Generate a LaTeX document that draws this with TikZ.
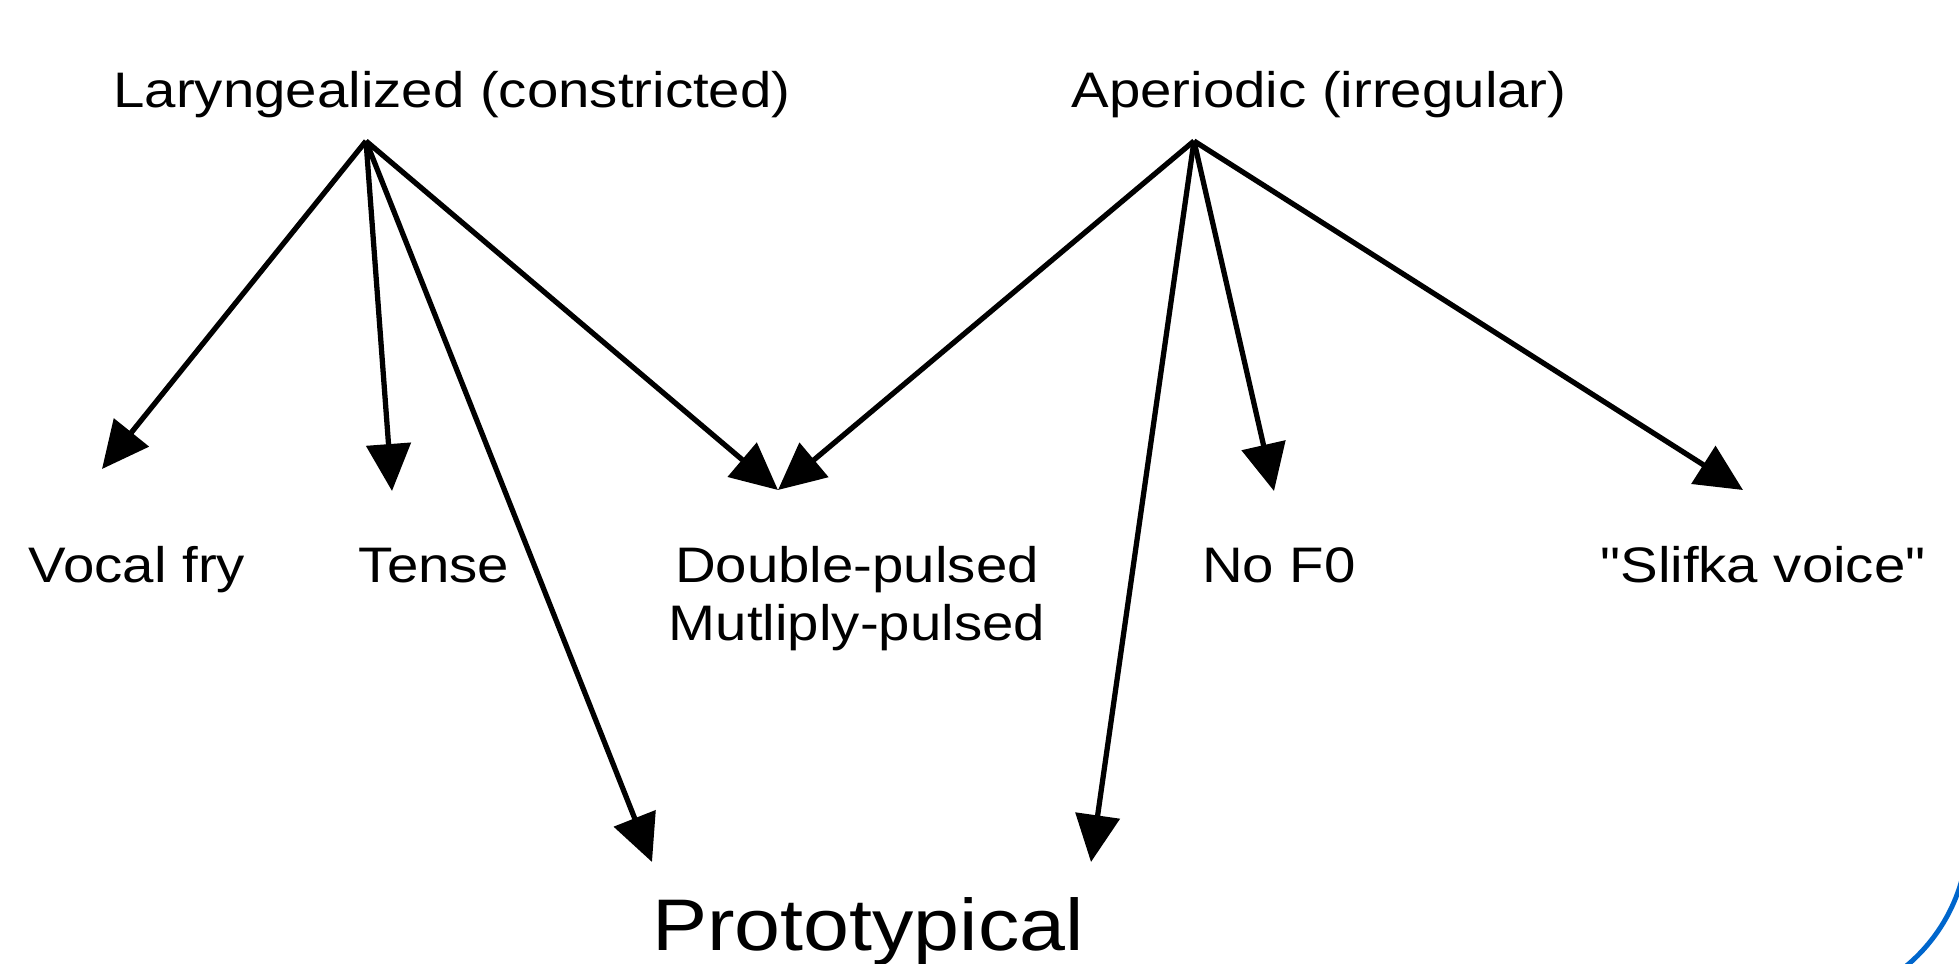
\documentclass[tikz,border=0pt]{standalone}
\usepackage{fontspec}
\setmainfont{Liberation Sans}[FakeStretch=1.13, Ligatures=TeXOff]
\usetikzlibrary{arrows.meta, calc}
\definecolor{frameblue}{RGB}{0,102,204}
\tikzset{
    my-label/.style={
        anchor=base, inner sep=0pt, font=\fontsize{14.2}{17}\selectfont
    },
    my-big-label/.style={
        anchor=base, inner sep=0pt, font=\fontsize{20.8}{25}\selectfont
    },
    my-arrow/.style={
        -{Triangle[length=4.7mm, width=4.4mm]}, line width=1.5pt
    },
}

\begin{document}
\begin{tikzpicture}

        \useasboundingbox (0, 0) rectangle (19.59, -9.63);

        % FRAME (ONLY ITS LOWER CORNERS FALL INSIDE THE PICTURE)
        \draw[frameblue, line width=1.4pt, rounded corners=1.72cm] (-0.70, 3) rectangle (19.68, -10.06);

        % PHONATION TYPES
        \node[my-label] (LARYNG)    at (4.52, -1.07)                 {Laryngealized (constricted)};
        \node[my-label] (APERIODIC) at ($(LARYNG.base) + (8.67, 0)$) {Aperiodic (irregular)};

        % SOURCE POINTS OF THE ARROWS
        \coordinate (LARYNGSRC) at ($(LARYNG.base)    + (-0.86, -0.34)$);
        \coordinate (APERSRC)   at ($(APERIODIC.base) + (-1.25, -0.34)$);

        % SUBTYPES
        \node[my-label] (VOCAL)  at (1.37, -5.82)                {Vocal fry};
        \node[my-label] (TENSE)  at ($(VOCAL.base) + (2.97, 0)$)  {Tense};
        \node[my-label] (DOUBLE) at ($(VOCAL.base) + (7.20, 0)$)  {Double-pulsed};
        \node[my-label] (MULTI)  at ($(DOUBLE.base) + (0, -0.58)$) {Mutliply-pulsed};
        \node[my-label] (NOF0)   at ($(VOCAL.base) + (11.42, 0)$) {No F0};
        \node[my-label] (SLIFKA) at ($(VOCAL.base) + (16.26, 0)$) {"Slifka voice"};

        % PROTOTYPICAL
        \node[my-big-label] (PROTO) at (8.68, -9.50) {Prototypical};

        % ARROW TIPS
        \coordinate (VOCALTIP)  at ($(VOCAL.base)  + (-0.35, 1.13)$);
        \coordinate (TENSETIP)  at ($(TENSE.base)  + (-0.42, 0.91)$);
        \coordinate (DOUBLETIP) at ($(DOUBLE.base) + (-0.79, 0.92)$);
        \coordinate (NOF0TIP)   at ($(NOF0.base)   + (-0.05, 0.91)$);
        \coordinate (SLIFKATIP) at ($(SLIFKA.base) + (-0.20, 0.92)$);
        \coordinate (PROTOTIPL) at ($(PROTO.base)  + (-2.16, 0.88)$);
        \coordinate (PROTOTIPR) at ($(PROTO.base)  + (2.23, 0.88)$);

        % LARYNGEALIZED ARROWS
        \draw[my-arrow] (LARYNGSRC) -- (VOCALTIP);
        \draw[my-arrow] (LARYNGSRC) -- (TENSETIP);
        \draw[my-arrow] (LARYNGSRC) -- (PROTOTIPL);
        \draw[my-arrow] (LARYNGSRC) -- (DOUBLETIP);

        % APERIODIC ARROWS
        \draw[my-arrow] (APERSRC) -- (DOUBLETIP);
        \draw[my-arrow] (APERSRC) -- (PROTOTIPR);
        \draw[my-arrow] (APERSRC) -- (NOF0TIP);
        \draw[my-arrow] (APERSRC) -- (SLIFKATIP);

\end{tikzpicture}
\end{document}
